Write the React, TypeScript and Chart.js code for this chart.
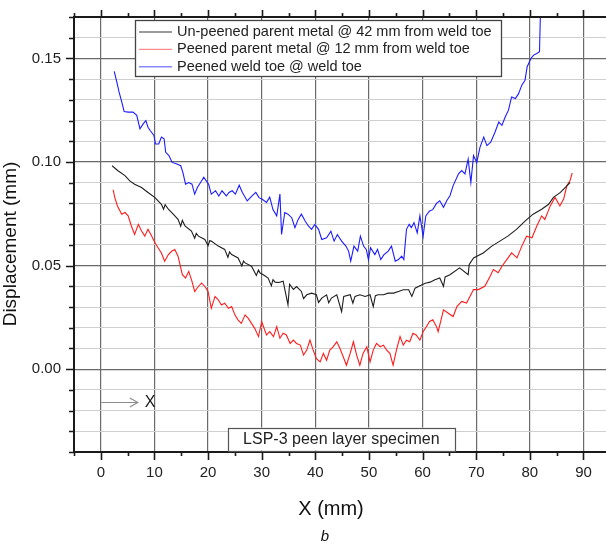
import React, { useEffect, useRef } from 'react';
import { Chart, registerables } from 'chart.js';

Chart.register(...registerables);

// ---------- data ----------
const blackX = [2.1, 3.2, 4.5, 5.4, 6.3, 7.6, 8.8, 10.1, 11.3, 11.7, 12.0, 12.6, 13.5, 14.4, 14.9, 15.2, 15.7, 16.9, 17.5, 17.8, 18.2, 19.4, 20.0, 20.3, 20.6, 21.9, 23.1, 23.7, 24.0, 24.4, 25.6, 26.3, 26.6, 26.9, 28.1, 29.0, 29.4, 29.7, 30.3, 31.2, 31.8, 32.1, 32.5, 33.2, 34.0, 34.9, 35.2, 35.9, 36.5, 37.4, 37.8, 38.4, 39.3, 40.2, 40.6, 41.2, 42.1, 42.5, 43.0, 44.0, 44.9, 45.3, 46.5, 47.0, 47.4, 48.3, 49.3, 50.2, 50.8, 51.2, 51.7, 52.7, 53.6, 54.6, 55.5, 56.4, 57.4, 58.0, 58.6, 59.5, 60.5, 61.4, 62.3, 63.2, 63.9, 64.2, 65.1, 66.9, 68.5, 68.7, 69.5, 71.3, 72.9, 74.4, 75.9, 77.5, 79.1, 80.6, 82.2, 83.5, 84.4, 85.7, 86.9, 87.5];
const blackY = [0.0982, 0.0958, 0.0934, 0.0909, 0.0893, 0.0877, 0.0853, 0.0828, 0.0796, 0.0772, 0.0794, 0.0772, 0.0748, 0.0723, 0.0690, 0.0718, 0.0691, 0.0667, 0.0632, 0.0655, 0.0642, 0.0626, 0.0596, 0.0620, 0.0618, 0.0594, 0.0578, 0.0540, 0.0566, 0.0553, 0.0537, 0.0498, 0.0522, 0.0513, 0.0497, 0.0452, 0.0478, 0.0464, 0.0456, 0.0440, 0.0402, 0.0432, 0.0420, 0.0418, 0.0425, 0.0311, 0.0410, 0.0385, 0.0399, 0.0375, 0.0340, 0.0359, 0.0367, 0.0359, 0.0322, 0.0343, 0.0359, 0.0320, 0.0343, 0.0359, 0.0278, 0.0351, 0.0359, 0.0318, 0.0351, 0.0359, 0.0351, 0.0359, 0.0302, 0.0355, 0.0359, 0.0359, 0.0367, 0.0367, 0.0375, 0.0383, 0.0383, 0.0351, 0.0391, 0.0403, 0.0415, 0.0420, 0.0432, 0.0440, 0.0400, 0.0445, 0.0456, 0.0489, 0.0456, 0.0505, 0.0537, 0.0561, 0.0594, 0.0618, 0.0642, 0.0675, 0.0715, 0.0748, 0.0772, 0.0796, 0.0829, 0.0853, 0.0885, 0.0901];

const redX = [2.3, 2.6, 3.1, 3.9, 4.5, 5.1, 5.7, 6.3, 7.0, 7.6, 8.2, 8.8, 9.5, 10.1, 10.7, 11.3, 11.9, 12.6, 13.2, 13.8, 14.4, 15.2, 15.8, 16.4, 17.0, 17.5, 18.2, 18.8, 19.4, 20.0, 20.6, 21.3, 21.9, 22.5, 23.1, 23.8, 24.4, 25.0, 25.6, 26.2, 26.9, 27.5, 28.1, 28.7, 29.4, 30.0, 30.9, 31.5, 32.2, 32.8, 33.4, 34.0, 34.6, 35.3, 35.9, 36.5, 37.2, 37.8, 38.4, 39.0, 39.6, 40.2, 40.9, 41.5, 42.1, 42.7, 43.3, 44.0, 44.6, 45.2, 45.8, 46.5, 47.1, 47.7, 48.3, 48.9, 49.6, 50.2, 50.8, 51.4, 52.1, 52.7, 53.3, 53.9, 54.5, 55.2, 55.8, 56.4, 57.0, 57.6, 58.2, 58.8, 59.5, 60.1, 60.7, 61.3, 61.9, 62.6, 62.9, 63.9, 64.8, 65.7, 66.4, 67.3, 68.2, 69.5, 70.4, 71.6, 72.6, 73.2, 74.1, 74.8, 75.7, 76.6, 77.6, 78.5, 79.4, 80.4, 81.3, 82.2, 82.8, 83.8, 84.7, 85.6, 86.3, 86.9, 87.5, 87.9];
const redY = [0.0866, 0.0829, 0.0788, 0.0748, 0.0756, 0.0740, 0.0691, 0.0650, 0.0699, 0.0667, 0.0642, 0.0675, 0.0642, 0.0610, 0.0585, 0.0561, 0.0521, 0.0553, 0.0569, 0.0577, 0.0545, 0.0456, 0.0440, 0.0472, 0.0424, 0.0375, 0.0399, 0.0416, 0.0399, 0.0375, 0.0294, 0.0351, 0.0335, 0.0310, 0.0318, 0.0294, 0.0302, 0.0262, 0.0237, 0.0221, 0.0262, 0.0245, 0.0221, 0.0197, 0.0157, 0.0229, 0.0165, 0.0181, 0.0157, 0.0205, 0.0149, 0.0173, 0.0165, 0.0124, 0.0140, 0.0124, 0.0116, 0.0068, 0.0092, 0.0140, 0.0092, 0.0051, 0.0035, 0.0076, 0.0043, 0.0092, 0.0108, 0.0132, 0.0100, 0.0060, 0.0019, 0.0076, 0.0132, 0.0068, 0.0019, 0.0076, 0.0108, 0.0035, 0.0092, 0.0124, 0.0108, 0.0116, 0.0092, 0.0076, 0.0019, 0.0100, 0.0157, 0.0116, 0.0140, 0.0132, 0.0173, 0.0165, 0.0140, 0.0181, 0.0205, 0.0230, 0.0238, 0.0205, 0.0181, 0.0286, 0.0270, 0.0254, 0.0302, 0.0327, 0.0319, 0.0384, 0.0384, 0.0400, 0.0448, 0.0481, 0.0465, 0.0497, 0.0529, 0.0561, 0.0537, 0.0594, 0.0642, 0.0634, 0.0691, 0.0740, 0.0723, 0.0788, 0.0829, 0.0788, 0.0821, 0.0885, 0.0910, 0.0947];

const blueX = [2.5, 2.9, 3.4, 3.9, 4.35, 5.1, 6.0, 6.7, 7.3, 7.9, 8.4, 8.8, 9.2, 9.9, 10.2, 10.8, 11.3, 11.8, 12.1, 12.7, 13.3, 14.2, 14.9, 15.3, 15.8, 16.4, 17.0, 17.5, 18.0, 18.6, 19.2, 20.1, 20.6, 21.4, 22.0, 22.6, 23.4, 23.9, 24.5, 25.1, 25.8, 26.4, 27.3, 28.2, 28.9, 29.5, 30.1, 30.9, 31.5, 32.1, 32.8, 33.4, 33.7, 34.3, 34.9, 35.6, 36.2, 36.8, 37.4, 38.1, 38.7, 39.3, 39.9, 40.6, 41.2, 42.1, 42.9, 43.5, 44.1, 44.9, 45.7, 46.2, 46.6, 47.2, 47.9, 48.4, 49.0, 49.5, 49.9, 50.3, 51.1, 51.6, 52.2, 52.8, 53.6, 54.2, 54.9, 55.5, 56.1, 56.5, 57.0, 57.5, 57.9, 58.4, 59.0, 59.5, 60.1, 60.6, 61.3, 61.9, 62.6, 63.2, 63.9, 64.5, 65.1, 65.7, 66.7, 67.3, 67.9, 68.5, 69.0, 69.5, 70.1, 70.7, 71.4, 72.0, 72.7, 73.5, 74.2, 74.8, 75.4, 76.0, 76.6, 77.3, 77.9, 78.5, 79.1, 79.5, 80.2, 80.7, 81.3, 81.8, 82.05];
const blueY = [0.1438, 0.1395, 0.1338, 0.1290, 0.1244, 0.1241, 0.1241, 0.1225, 0.1160, 0.1184, 0.1200, 0.1168, 0.1152, 0.1128, 0.1087, 0.1087, 0.1120, 0.1112, 0.1047, 0.1031, 0.0998, 0.0990, 0.0982, 0.0950, 0.0893, 0.0901, 0.0893, 0.0845, 0.0877, 0.0901, 0.0926, 0.0893, 0.0845, 0.0861, 0.0836, 0.0861, 0.0836, 0.0853, 0.0861, 0.0845, 0.0888, 0.0853, 0.0812, 0.0836, 0.0853, 0.0828, 0.0820, 0.0805, 0.0830, 0.0770, 0.0740, 0.0845, 0.0650, 0.0756, 0.0748, 0.0731, 0.0683, 0.0723, 0.0748, 0.0715, 0.0691, 0.0675, 0.0699, 0.0675, 0.0626, 0.0634, 0.0666, 0.0618, 0.0650, 0.0618, 0.0594, 0.0570, 0.0521, 0.0594, 0.0570, 0.0642, 0.0594, 0.0578, 0.0529, 0.0586, 0.0553, 0.0578, 0.0529, 0.0553, 0.0570, 0.0594, 0.0521, 0.0529, 0.0545, 0.0529, 0.0675, 0.0699, 0.0683, 0.0707, 0.0658, 0.0740, 0.0642, 0.0740, 0.0764, 0.0770, 0.0800, 0.0813, 0.0781, 0.0813, 0.0837, 0.0886, 0.0943, 0.0959, 0.0943, 0.1014, 0.0901, 0.1031, 0.0998, 0.1071, 0.1120, 0.1079, 0.1096, 0.1144, 0.1193, 0.1177, 0.1217, 0.1249, 0.1314, 0.1306, 0.1330, 0.1371, 0.1395, 0.1460, 0.1500, 0.1516, 0.1524, 0.1532, 0.1800];

const seriesLabels = [
  'Un-peened parent metal @ 42 mm from weld toe',
  'Peened parent metal @ 12 mm from weld toe',
  'Peened weld toe @ weld toe',
];
const seriesColors = ['#1e1e1e', '#ff1c1c', '#1c1cff'];
const legendColors = ['#7a7a7a', '#ff8a8a', '#8a8aff'];
const xLabeled = [0, 10, 20, 30, 40, 50, 60, 70, 80, 90];
const yLabeled = [0.0, 0.05, 0.1, 0.15];
const xTitle = 'X (mm)';
const yTitle = 'Displacement (mm)';
const subCaption = 'b';
const boxText = 'LSP-3 peen layer specimen';
const arrowText = 'X';

const FONT = '"Liberation Sans", Arial, Helvetica, sans-serif';

const zip = (xs: number[], ys: number[]) => xs.map((x, i) => ({ x, y: ys[i] }));

const isMajorY = (v: number) => yLabeled.some((m) => Math.abs(m - v) < 1e-6);
const isMajorX = (v: number) => xLabeled.includes(Math.round(v)) && Math.abs(v - Math.round(v)) < 1e-6;

const decor = {
  id: 'decor',
  afterDatasetsDraw(chart: any) {
    const { ctx, chartArea: a, scales } = chart;
    const xs = scales.x;
    const ys = scales.y;
    ctx.save();

    // axis frame (left, top, bottom)
    ctx.strokeStyle = '#1a1a1a';
    ctx.lineWidth = 2;
    ctx.beginPath();
    ctx.moveTo(a.left, a.top);
    ctx.lineTo(a.right, a.top);
    ctx.moveTo(a.left, a.top - 1);
    ctx.lineTo(a.left, a.bottom + 1);
    ctx.moveTo(a.left, a.bottom);
    ctx.lineTo(a.right, a.bottom);
    ctx.stroke();

    // tick marks
    ctx.lineWidth = 1.6;
    ctx.beginPath();
    for (let v = -5; v <= 90; v += 5) {
      const px = Math.round(xs.getPixelForValue(v)) + 0.5;
      const major = v % 10 === 0;
      ctx.moveTo(px, a.bottom);
      ctx.lineTo(px, a.bottom + (major ? 8 : 4));
      ctx.moveTo(px, a.top);
      ctx.lineTo(px, a.top - (major ? 7 : 4));
    }
    for (let i = -4; i <= 17; i++) {
      const v = i / 100;
      const py = Math.round(ys.getPixelForValue(v)) + 0.5;
      const major = i % 5 === 0;
      ctx.moveTo(a.left, py);
      ctx.lineTo(a.left - (major ? 8 : 5), py);
    }
    ctx.stroke();

    // legend box
    const lx = a.left + 61;
    const ly = a.top + 3;
    const lw = 366;
    const lh = 56;
    ctx.fillStyle = '#ffffff';
    ctx.fillRect(lx, ly, lw, lh);
    ctx.strokeStyle = '#444';
    ctx.lineWidth = 1.3;
    ctx.strokeRect(lx + 0.5, ly + 0.5, lw, lh);
    ctx.font = `14.5px ${FONT}`;
    ctx.textBaseline = 'middle';
    ctx.textAlign = 'left';
    seriesLabels.forEach((t, i) => {
      const cy = ly + 12 + i * 17.4;
      ctx.strokeStyle = legendColors[i];
      ctx.lineWidth = 1.4;
      ctx.beginPath();
      ctx.moveTo(lx + 4, cy);
      ctx.lineTo(lx + 37, cy);
      ctx.stroke();
      ctx.fillStyle = '#222';
      ctx.fillText(t, lx + 42, cy);
    });

    // annotation box
    const bx1 = xs.getPixelForValue(23.7);
    const bx2 = xs.getPixelForValue(66.0);
    const by1 = ys.getPixelForValue(-0.0282);
    const by2 = ys.getPixelForValue(-0.0393);
    ctx.fillStyle = '#ffffff';
    ctx.fillRect(bx1, by1, bx2 - bx1, by2 - by1);
    ctx.strokeStyle = '#555';
    ctx.lineWidth = 1.2;
    ctx.strokeRect(Math.round(bx1) + 0.5, Math.round(by1) + 0.5, Math.round(bx2 - bx1), Math.round(by2 - by1));
    ctx.fillStyle = '#222';
    ctx.font = `16px ${FONT}`;
    ctx.textAlign = 'center';
    ctx.fillText(boxText, (bx1 + bx2) / 2, (by1 + by2) / 2 + 0.5);

    // arrow
    const ay = Math.round(ys.getPixelForValue(-0.0159)) + 0.5;
    const ax1 = xs.getPixelForValue(0.1);
    const ax2 = xs.getPixelForValue(6.9);
    ctx.strokeStyle = '#8c8c8c';
    ctx.lineWidth = 1.1;
    ctx.beginPath();
    ctx.moveTo(ax1, ay);
    ctx.lineTo(ax2, ay);
    ctx.moveTo(ax2 - 8, ay - 4.5);
    ctx.lineTo(ax2, ay);
    ctx.lineTo(ax2 - 8, ay + 4.5);
    ctx.stroke();
    ctx.fillStyle = '#1a1a1a';
    ctx.font = `16px ${FONT}`;
    ctx.textAlign = 'left';
    ctx.fillText(arrowText, xs.getPixelForValue(8.2), ay + 0.5);

    // axis titles
    ctx.fillStyle = '#111';
    ctx.font = `20px ${FONT}`;
    ctx.textAlign = 'center';
    ctx.fillText(xTitle, 331, 509);
    ctx.font = `italic 15px ${FONT}`;
    ctx.fillText(subCaption, 325, 537);
    ctx.save();
    ctx.translate(11, 244);
    ctx.rotate(-Math.PI / 2);
    ctx.font = `19px ${FONT}`;
    ctx.fillStyle = '#111';
    ctx.fillText(yTitle, 0, 0);
    ctx.restore();

    ctx.restore();
  },
};

export default function App() {
  const ref = useRef<HTMLCanvasElement | null>(null);

  useEffect(() => {
    if (!ref.current) return;
    const chart = new Chart(ref.current, {
      type: 'line',
      data: {
        datasets: [
          { label: seriesLabels[0], data: zip(blackX, blackY), borderColor: seriesColors[0] },
          { label: seriesLabels[1], data: zip(redX, redY), borderColor: seriesColors[1] },
          { label: seriesLabels[2], data: zip(blueX, blueY), borderColor: seriesColors[2] },
        ].map((d) => ({ ...d, borderWidth: 1.1, pointRadius: 0, tension: 0, fill: false })),
      },
      options: {
        animation: false,
        responsive: false,
        devicePixelRatio: 1,
        layout: { padding: { top: 17, right: 0, left: 0, bottom: 0 } },
        plugins: { legend: { display: false }, tooltip: { enabled: false } },
        scales: {
          x: {
            type: 'linear',
            min: -5,
            max: 94.2,
            border: { display: false },
            afterFit: (s: any) => { s.height = 96; },
            ticks: {
              stepSize: 5,
              includeBounds: false,
              autoSkip: false,
              maxRotation: 0,
              padding: 4,
              color: '#222',
              font: { family: FONT, size: 15 },
              callback: (v: any) => (isMajorX(Number(v)) ? String(Math.round(Number(v))) : ''),
            },
            grid: {
              drawTicks: true,
              tickLength: 8,
              tickColor: 'rgba(0,0,0,0)',
              color: (c: any) => (c.tick && isMajorX(c.tick.value) ? '#6a6a6a' : 'rgba(0,0,0,0)'),
              lineWidth: 1.2,
            },
          },
          y: {
            type: 'linear',
            min: -0.04,
            max: 0.17,
            border: { display: false },
            afterFit: (s: any) => { s.width = 74; },
            ticks: {
              stepSize: 0.01,
              autoSkip: false,
              padding: 5,
              color: '#222',
              font: { family: FONT, size: 15 },
              callback: (v: any) => (isMajorY(Number(v)) ? Number(v).toFixed(2) : ''),
            },
            grid: {
              drawTicks: true,
              tickLength: 8,
              tickColor: 'rgba(0,0,0,0)',
              color: (c: any) => (c.tick && isMajorY(c.tick.value) ? '#6a6a6a' : '#cfcfcf'),
              lineWidth: (c: any) => (c.tick && isMajorY(c.tick.value) ? 1.2 : 1),
              borderDash: (c: any) => (c.tick && isMajorY(c.tick.value) ? [] : [4, 3]),
            } as any,
          },
        },
      } as any,
      plugins: [decor],
    });
    return () => chart.destroy();
  }, []);

  return (
    <div style={{ position: 'absolute', left: 0, top: 0, width: 606, height: 548, background: '#fff' }}>
      <canvas ref={ref} width={606} height={548} style={{ display: 'block' }} />
    </div>
  );
}
